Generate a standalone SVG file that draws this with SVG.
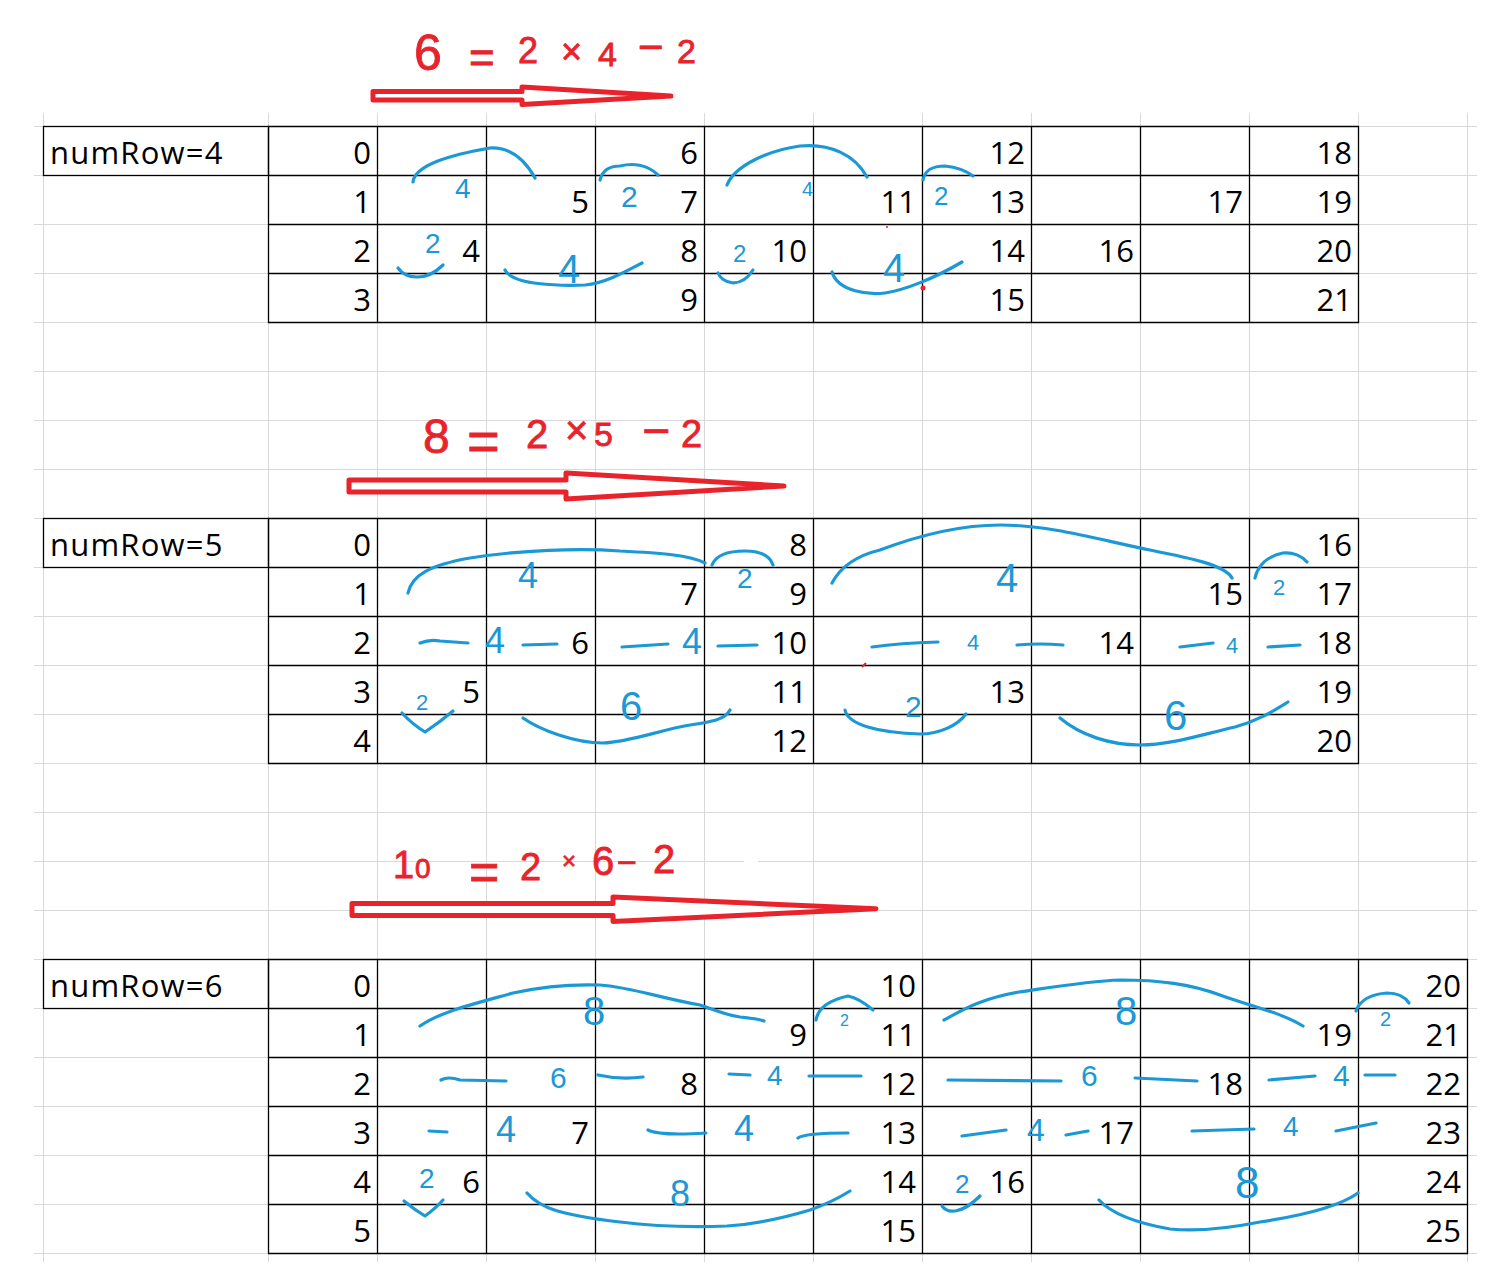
<svg xmlns="http://www.w3.org/2000/svg" width="1493" height="1268" viewBox="0 0 1493 1268">
<style>
.g{fill:none;stroke:#d9d9d9;stroke-width:1}
.tb{fill:none;stroke:#000;stroke-width:1.3}
.n{font-family:"Open Sans","Liberation Sans",sans-serif;font-size:31px;fill:#000;text-anchor:end}
.lb{font-family:"Open Sans","Liberation Sans",sans-serif;font-size:31px;fill:#000;letter-spacing:1.2px}
.bl{fill:none;stroke:#1b98d6;stroke-width:3.2;stroke-linecap:round;stroke-linejoin:round}
.bt{font-family:"Liberation Sans",sans-serif;fill:#1b98d6}
.ra{fill:#fff;stroke:#e8232b;stroke-width:5;stroke-linejoin:round}
.rt{font-family:"Liberation Sans",sans-serif;fill:#e8232b;stroke:#e8232b;stroke-width:0.8}
</style>
<rect width="1493" height="1268" fill="#fff"/>
<g id="grid">
<path class="g" d="M34 126.5H1477M34 175.5H1477M34 224.5H1477M34 273.5H1477M34 322.5H1477M34 371.5H1477M34 420.5H1477M34 469.5H1477M34 518.5H1477M34 567.5H1477M34 616.5H1477M34 665.5H1477M34 714.5H1477M34 763.5H1477M34 812.5H1477M34 861.5H1477M34 910.5H1477M34 959.5H1477M34 1008.5H1477M34 1057.5H1477M34 1106.5H1477M34 1155.5H1477M34 1204.5H1477M34 1253.5H1477"/>
<path class="g" d="M43.5 113V1262M268.5 113V1262M377.5 113V1262M486.5 113V1262M595.5 113V1262M704.5 113V1262M813.5 113V1262M922.5 113V1262M1031.5 113V1262M1140.5 113V1262M1249.5 113V1262M1358.5 113V1262M1467.5 113V1262"/>
<rect x="744" y="855" width="14" height="12" fill="#fff"/>
</g>
<g id="table-4">
<rect class="tb" x="43.5" y="126.5" width="225" height="49"/>
<path class="tb" d="M268.5 126.5H1358.5V322.5H268.5ZM268.5 175.5H1358.5M268.5 224.5H1358.5M268.5 273.5H1358.5M377.5 126.5V322.5M486.5 126.5V322.5M595.5 126.5V322.5M704.5 126.5V322.5M813.5 126.5V322.5M922.5 126.5V322.5M1031.5 126.5V322.5M1140.5 126.5V322.5M1249.5 126.5V322.5"/>
<text class="lb" x="50" y="164">numRow=4</text>
<text class="n" x="371" y="164">0</text><text class="n" x="371" y="213">1</text><text class="n" x="371" y="262">2</text><text class="n" x="371" y="311">3</text>
<text class="n" x="480" y="262">4</text>
<text class="n" x="589" y="213">5</text>
<text class="n" x="698" y="164">6</text><text class="n" x="698" y="213">7</text><text class="n" x="698" y="262">8</text><text class="n" x="698" y="311">9</text>
<text class="n" x="807" y="262">10</text>
<text class="n" x="916" y="213">11</text>
<text class="n" x="1025" y="164">12</text><text class="n" x="1025" y="213">13</text><text class="n" x="1025" y="262">14</text><text class="n" x="1025" y="311">15</text>
<text class="n" x="1134" y="262">16</text>
<text class="n" x="1243" y="213">17</text>
<text class="n" x="1352" y="164">18</text><text class="n" x="1352" y="213">19</text><text class="n" x="1352" y="262">20</text><text class="n" x="1352" y="311">21</text>
</g>
<g id="table-5">
<rect class="tb" x="43.5" y="518.5" width="225" height="49"/>
<path class="tb" d="M268.5 518.5H1358.5V763.5H268.5ZM268.5 567.5H1358.5M268.5 616.5H1358.5M268.5 665.5H1358.5M268.5 714.5H1358.5M377.5 518.5V763.5M486.5 518.5V763.5M595.5 518.5V763.5M704.5 518.5V763.5M813.5 518.5V763.5M922.5 518.5V763.5M1031.5 518.5V763.5M1140.5 518.5V763.5M1249.5 518.5V763.5"/>
<text class="lb" x="50" y="556">numRow=5</text>
<text class="n" x="371" y="556">0</text><text class="n" x="371" y="605">1</text><text class="n" x="371" y="654">2</text><text class="n" x="371" y="703">3</text><text class="n" x="371" y="752">4</text>
<text class="n" x="480" y="703">5</text>
<text class="n" x="589" y="654">6</text>
<text class="n" x="698" y="605">7</text>
<text class="n" x="807" y="556">8</text><text class="n" x="807" y="605">9</text><text class="n" x="807" y="654">10</text><text class="n" x="807" y="703">11</text><text class="n" x="807" y="752">12</text>
<text class="n" x="1025" y="703">13</text>
<text class="n" x="1134" y="654">14</text>
<text class="n" x="1243" y="605">15</text>
<text class="n" x="1352" y="556">16</text><text class="n" x="1352" y="605">17</text><text class="n" x="1352" y="654">18</text><text class="n" x="1352" y="703">19</text><text class="n" x="1352" y="752">20</text>
</g>
<g id="table-6">
<rect class="tb" x="43.5" y="959.5" width="225" height="49"/>
<path class="tb" d="M268.5 959.5H1467.5V1253.5H268.5ZM268.5 1008.5H1467.5M268.5 1057.5H1467.5M268.5 1106.5H1467.5M268.5 1155.5H1467.5M268.5 1204.5H1467.5M377.5 959.5V1253.5M486.5 959.5V1253.5M595.5 959.5V1253.5M704.5 959.5V1253.5M813.5 959.5V1253.5M922.5 959.5V1253.5M1031.5 959.5V1253.5M1140.5 959.5V1253.5M1249.5 959.5V1253.5M1358.5 959.5V1253.5"/>
<text class="lb" x="50" y="997">numRow=6</text>
<text class="n" x="371" y="997">0</text><text class="n" x="371" y="1046">1</text><text class="n" x="371" y="1095">2</text><text class="n" x="371" y="1144">3</text><text class="n" x="371" y="1193">4</text><text class="n" x="371" y="1242">5</text>
<text class="n" x="480" y="1193">6</text>
<text class="n" x="589" y="1144">7</text>
<text class="n" x="698" y="1095">8</text>
<text class="n" x="807" y="1046">9</text>
<text class="n" x="916" y="997">10</text><text class="n" x="916" y="1046">11</text><text class="n" x="916" y="1095">12</text><text class="n" x="916" y="1144">13</text><text class="n" x="916" y="1193">14</text><text class="n" x="916" y="1242">15</text>
<text class="n" x="1025" y="1193">16</text>
<text class="n" x="1134" y="1144">17</text>
<text class="n" x="1243" y="1095">18</text>
<text class="n" x="1352" y="1046">19</text>
<text class="n" x="1461" y="997">20</text><text class="n" x="1461" y="1046">21</text><text class="n" x="1461" y="1095">22</text><text class="n" x="1461" y="1144">23</text><text class="n" x="1461" y="1193">24</text><text class="n" x="1461" y="1242">25</text>
</g>
<g id="connectors">
<path class="ra" d="M373 91.5H522V87L671 96L522 104.5V100H373Z"/>
<path class="ra" d="M349 480H566V473L784 486L566 499V492H349Z"/>
<path class="ra" d="M352 903.5H613V897L876 908.7L613 921.5V915.5H352Z"/>
</g>
<g id="formulas">
<text class="rt"><tspan x="414" y="70" font-size="50">6 </tspan><tspan x="469" y="73" font-size="44">= </tspan><tspan x="518" y="63" font-size="36">2</tspan><tspan x="561" y="64" font-size="36">×</tspan><tspan x="598" y="66" font-size="34">4</tspan><tspan x="638" y="62" font-size="44">−</tspan><tspan x="677" y="63" font-size="34">2</tspan></text>
<text class="rt"><tspan x="423" y="453" font-size="48">8 </tspan><tspan x="467" y="460" font-size="56">= </tspan><tspan x="526" y="448" font-size="40">2</tspan><tspan x="565" y="444" font-size="40">×</tspan><tspan x="594" y="446" font-size="34">5</tspan><tspan x="642" y="447" font-size="48">−</tspan><tspan x="681" y="447" font-size="38">2</tspan></text>
<text class="rt"><tspan x="393" y="878" font-size="38">1</tspan><tspan x="415" y="878" font-size="28">0 </tspan><tspan x="469" y="890" font-size="52">= </tspan><tspan x="520" y="880" font-size="38">2</tspan><tspan x="562" y="869" font-size="24">×</tspan><tspan x="592" y="875" font-size="40">6</tspan><tspan x="617" y="874" font-size="34">−</tspan><tspan x="653" y="873" font-size="40">2</tspan></text>
<circle cx="923" cy="288" r="2.5" fill="#e8232b"/>
<circle cx="887" cy="227" r="1" fill="#e8232b"/>
<path d="M862 667L866 663" stroke="#e8232b" stroke-width="2" fill="none"/>
</g>
<g id="notes-4">
<path class="bl" d="M413,182 C415,165 450,155 490,148 C510,147 525,160 535,178"/>
<path class="bl" d="M600,180 C603,168 612,166 620,166 C632,163 647,164 658,175"/>
<path class="bl" d="M727,185 C735,165 770,150 800,146 C830,143 855,155 867,177"/>
<path class="bl" d="M923,180 C925,170 932,166 945,166 C955,167 965,170 973,176"/>
<path class="bl" d="M398,268 C405,278 425,283 443,265"/>
<path class="bl" d="M505,270 C512,285 560,286 585,285 C605,283 625,272 642,263"/>
<path class="bl" d="M718,273 C722,283 740,290 753,270"/>
<path class="bl" d="M832,272 C838,292 870,295 885,293 C905,290 935,278 962,262"/>
<text class="bt" x="455" y="198" font-size="28">4</text>
<text class="bt" x="621" y="207" font-size="30">2</text>
<text class="bt" x="802" y="196" font-size="20">4</text>
<text class="bt" x="934" y="205" font-size="26">2</text>
<text class="bt" x="425" y="253" font-size="28">2</text>
<text class="bt" x="558" y="283" font-size="40">4</text>
<text class="bt" x="733" y="262" font-size="24">2</text>
<text class="bt" x="883" y="282" font-size="40">4</text>
</g>
<g id="notes-5">
<path class="bl" d="M408,593 C412,575 430,565 470,558 C520,550 580,548 620,551 C660,553 690,555 705,563"/>
<path class="bl" d="M712,565 C716,555 728,551 745,551 C760,551 770,556 773,565"/>
<path class="bl" d="M832,583 C840,568 855,556 880,550 C920,535 960,525 1000,525 C1050,525 1100,540 1150,550 C1190,558 1225,565 1232,578"/>
<path class="bl" d="M1255,578 C1258,565 1268,556 1283,553 C1293,552 1302,556 1307,562"/>
<path class="bl" d="M420,643 Q430,639 440,641 L468,643M523,645 L557,644M622,647 L668,644M718,646 L757,645M872,647 Q900,643 938,642M1017,645 Q1040,643 1063,645M1180,647 L1213,643M1268,647 L1300,645"/>
<path class="bl" d="M402,713 Q412,724 425,732 Q440,722 453,711"/>
<path class="bl" d="M523,718 C540,730 575,743 603,743 C630,742 660,730 690,725 C710,722 725,720 730,710"/>
<path class="bl" d="M845,710 C848,725 880,733 920,734 C940,734 958,725 966,714"/>
<path class="bl" d="M1060,718 C1080,735 1110,745 1140,745 C1170,745 1200,735 1235,727 C1260,720 1275,710 1288,702"/>
<text class="bt" x="518" y="588" font-size="36">4</text>
<text class="bt" x="737" y="588" font-size="28">2</text>
<text class="bt" x="996" y="592" font-size="40">4</text>
<text class="bt" x="1273" y="595" font-size="22">2</text>
<text class="bt" x="485" y="653" font-size="36">4</text>
<text class="bt" x="682" y="654" font-size="36">4</text>
<text class="bt" x="967" y="650" font-size="22">4</text>
<text class="bt" x="1226" y="653" font-size="22">4</text>
<text class="bt" x="416" y="710" font-size="22">2</text>
<text class="bt" x="620" y="720" font-size="40">6</text>
<text class="bt" x="905" y="717" font-size="30">2</text>
<text class="bt" x="1164" y="730" font-size="42">6</text>
</g>
<g id="notes-6">
<path class="bl" d="M420,1026 C440,1012 470,1005 513,993 C540,987 570,984 600,985 C630,987 660,998 700,1005 C715,1010 725,1015 740,1017 C750,1018 758,1019 764,1021"/>
<path class="bl" d="M816,1020 C818,1008 830,1000 848,996 C858,998 866,1004 873,1010"/>
<path class="bl" d="M944,1020 C960,1012 975,1000 1019,992 C1060,986 1090,981 1120,980 C1160,980 1190,984 1220,995 C1250,1006 1280,1012 1303,1026"/>
<path class="bl" d="M1356,1011 C1360,1000 1372,994 1387,993 C1398,993 1405,997 1409,1003"/>
<path class="bl" d="M441,1080 Q448,1076 460,1080 L506,1081M598,1075 Q620,1080 643,1077M729,1074 L750,1075M809,1076 L861,1076M948,1080 L1061,1081M1135,1078 L1197,1081M1269,1080 L1315,1076M1365,1075 L1395,1075"/>
<path class="bl" d="M429,1131 L447,1132M648,1130 Q660,1136 706,1133M798,1138 Q805,1133 848,1133M962,1136 L1006,1130M1066,1135 L1088,1131M1192,1131 L1254,1129M1336,1131 L1376,1123"/>
<path class="bl" d="M404,1201 Q415,1210 425,1216 Q436,1208 443,1200"/>
<path class="bl" d="M527,1193 C540,1208 560,1215 620,1222 C660,1227 700,1227 727,1226 C760,1224 790,1216 810,1210 C830,1203 842,1196 850,1191"/>
<path class="bl" d="M942,1206 C948,1214 962,1214 980,1196"/>
<path class="bl" d="M1099,1200 C1110,1212 1130,1222 1170,1229 C1200,1232 1230,1228 1260,1222 C1300,1216 1340,1206 1358,1193"/>
<text class="bt" x="583" y="1025" font-size="40">8</text>
<text class="bt" x="840" y="1026" font-size="16">2</text>
<text class="bt" x="550" y="1088" font-size="30">6</text>
<text class="bt" x="767" y="1085" font-size="28">4</text>
<text class="bt" x="496" y="1142" font-size="36">4</text>
<text class="bt" x="734" y="1141" font-size="36">4</text>
<text class="bt" x="419" y="1188" font-size="28">2</text>
<text class="bt" x="670" y="1206" font-size="36">8</text>
<text class="bt" x="1115" y="1025" font-size="40">8</text>
<text class="bt" x="1380" y="1026" font-size="20">2</text>
<text class="bt" x="1081" y="1086" font-size="30">6</text>
<text class="bt" x="1333" y="1086" font-size="30">4</text>
<text class="bt" x="1027" y="1141" font-size="32">4</text>
<text class="bt" x="1283" y="1136" font-size="28">4</text>
<text class="bt" x="955" y="1193" font-size="26">2</text>
<text class="bt" x="1235" y="1198" font-size="44">8</text>
</g>
</svg>
